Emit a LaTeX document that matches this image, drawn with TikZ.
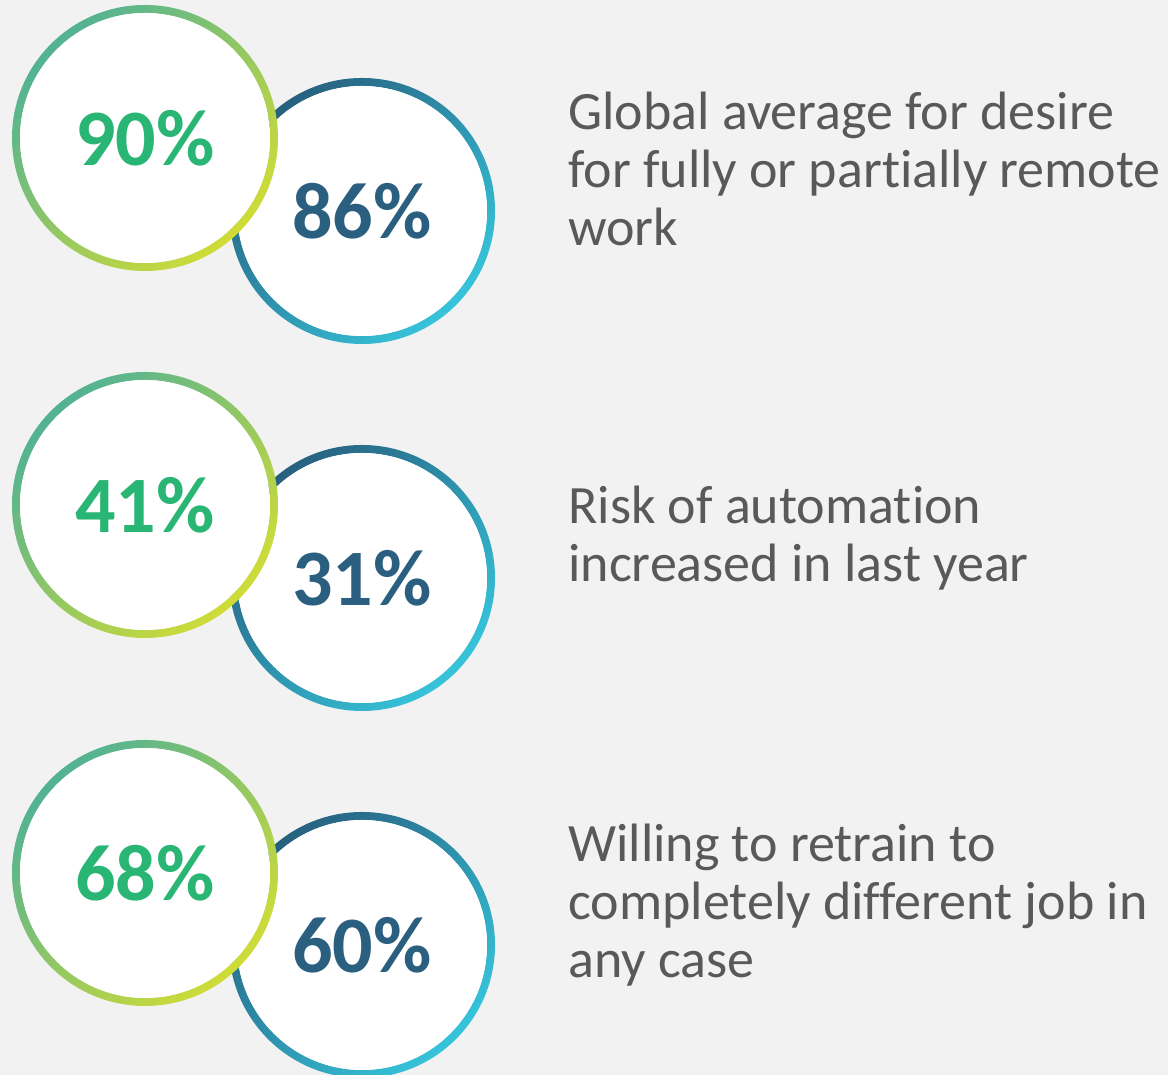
\documentclass[tikz,border=0pt]{standalone}
\usepackage{fontspec}
\setmainfont{Carlito}[Ligatures=NoCommon]
\usetikzlibrary{positioning}
\definecolor{pagebg}{HTML}{F2F2F2}
\definecolor{ringgreenA}{HTML}{52B294}
\definecolor{ringgreenB}{HTML}{D0DC36}
\definecolor{ringblueA}{HTML}{27607F}
\definecolor{ringblueB}{HTML}{36C4DA}
\definecolor{numgreen}{HTML}{29B574}
\definecolor{numblue}{HTML}{2A5F80}
\definecolor{textgray}{HTML}{595959}
\tikzset{
x=0.5pt,y=0.5pt,
green ring/.style={shading=axis,top color=ringgreenA,bottom color=ringgreenB,shading angle=45,even odd rule},
blue ring/.style={shading=axis,top color=ringblueA,bottom color=ringblueB,shading angle=45,even odd rule},
green num/.style={text=numgreen,font=\fontsize{40}{40}\selectfont\bfseries},
blue num/.style={text=numblue,font=\fontsize{40}{40}\selectfont\bfseries},
desc/.style={text=textgray,font=\fontsize{27}{29}\selectfont,align=left,anchor=base west,inner sep=0pt},
}
\newcommand{\pairofrings}[2]{% green centre, blue centre
  \shade[blue ring] (#2) circle (133) (#2) circle (125);
  \fill[white] (#2) circle (125);
  \shade[green ring] (#1) circle (133) (#1) circle (125);
  \fill[white] (#1) circle (125);
}

\begin{document}
\begin{tikzpicture}
\fill[pagebg] (0,0) rectangle (1168,1075);
\useasboundingbox (0,0) rectangle (1168,1075);

% centres of the rings
\coordinate (g1) at (145,937);
\coordinate (b1) at (362,864);
\coordinate (g2) at (145,570);
\coordinate (b2) at (362,497);
\coordinate (g3) at (145,202);
\coordinate (b3) at (362,130);

\pairofrings{g1}{b1}
\pairofrings{g2}{b2}
\pairofrings{g3}{b3}

\node[green num] (n90) at (g1) {90\%};
\node[blue num]  (n86) at (b1) {86\%};
\node[green num] (n41) at (g2) {41\%};
\node[blue num]  (n31) at (b2) {31\%};
\node[green num] (n68) at (g3) {68\%};
\node[blue num]  (n60) at (b3) {60\%};

% base west is the baseline of the last line
\node[desc] (remote) at (568,829) {Global average for desire\\for fully or partially remote\\work};
\node[desc] (automation) at (568,493) {Risk of automation\\increased in last year};
\node[desc] (retrain) at (568,97) {Willing to retrain to\\completely different job in\\any case};
\end{tikzpicture}
\end{document}
